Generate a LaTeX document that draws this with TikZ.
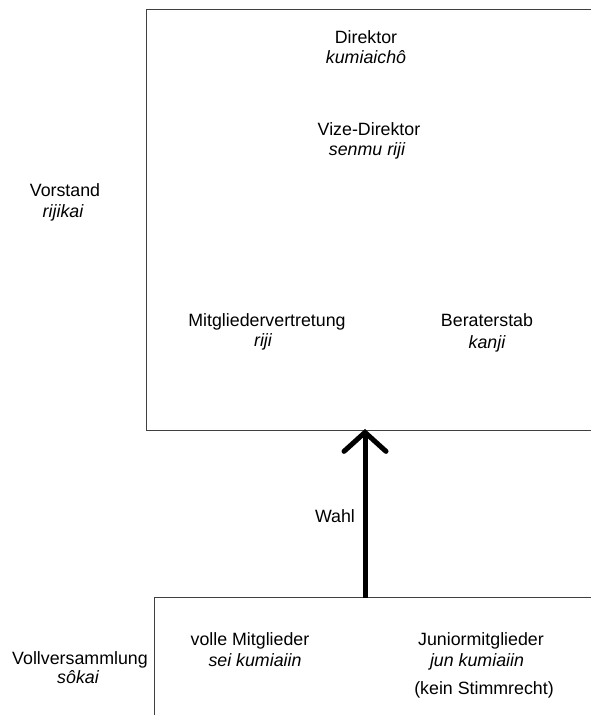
\documentclass[tikz,border=0pt]{standalone}
\usepackage{fontspec}
\setmainfont{Liberation Sans}
\usetikzlibrary{arrows.meta}
\begin{document}
\begin{tikzpicture}[x=1pt,y=-1pt,
  lbl/.style={anchor=base,inner sep=0pt,font=\fontsize{17.8}{20}\selectfont},
  ilbl/.style={lbl,font=\fontsize{17.8}{20}\selectfont\itshape},
  frame/.style={draw=black!75,line width=1pt},
  wahlarrow/.style={line width=5pt,-{Straight Barb[length=19pt,width=42pt,line cap=round,line join=miter]}}]
\useasboundingbox (0,0) rectangle (590,715);
% boxes
\draw[frame] (591,9) -- (146.5,9) -- (146.5,430) -- (591,430);
\draw[frame] (591,597) -- (154,597) -- (154,716);
% upper box labels
\node[lbl]  (dir)   at (366,43)  {Direktor};
\node[ilbl] (dirj)  at (366,63)  {kumiaichô};
\node[lbl]  (vdir)  at (369,135) {Vize-Direktor};
\node[ilbl] (vdirj) at (367,155) {senmu riji};
\node[lbl]  (mv)    at (267,326) {Mitgliedervertretung};
\node[ilbl] (mvj)   at (263,346) {riji};
\node[lbl]  (bs)    at (487,326) {Beraterstab};
\node[ilbl] (bsj)   at (487,348) {kanji};
\node[lbl]  (vor)   at (65,196)  {Vorstand};
\node[ilbl] (vorj)  at (63,217)  {rijikai};
% lower box labels
\node[lbl]  (vm)    at (250,645) {volle Mitglieder};
\node[ilbl] (vmj)   at (255,666) {sei kumiaiin};
\node[lbl]  (jm)    at (481,645) {Juniormitglieder};
\node[ilbl] (jmj)   at (477,666) {jun kumiaiin};
\node[lbl]  (ks)    at (484,694) {(kein Stimmrecht)};
\node[lbl]  (vv)    at (80,664)  {Vollversammlung};
\node[ilbl] (vvj)   at (78,683)  {sôkai};
% arrow
\coordinate (foot) at (365,598);
\coordinate (tip) at (365,429);
\draw[wahlarrow] (foot) -- (tip);
\node[lbl] (wahl) at (335,522) {Wahl};
\end{tikzpicture}
\end{document}
